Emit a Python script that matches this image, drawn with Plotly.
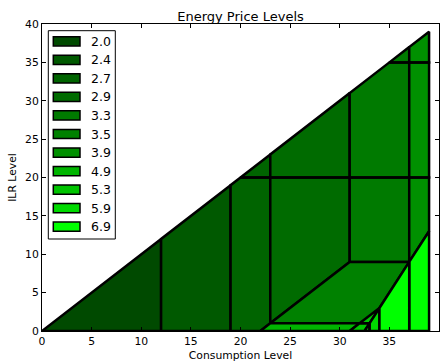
import plotly.graph_objects as go

# Price levels shown in the legend
price_levels = [2.0, 2.4, 2.7, 2.9, 3.3, 3.5, 3.9, 4.9, 5.3, 5.9, 6.9]

# Regions: price level, consumption vertices, ILR vertices
region_level = [2.0, 2.4, 2.7, 2.7, 2.9, 2.9, 3.3, 3.3, 3.3, 3.5,
                3.9, 3.9, 3.9, 4.9, 5.3, 5.3, 5.9, 5.9, 6.9, 6.9]
region_consumption = [
    [0, 12, 12],
    [12, 19, 19, 12],
    [19, 22, 23, 23, 20, 19],
    [20, 23, 23],
    [23, 31, 31, 23],
    [23, 31, 31, 23],
    [31, 37, 37, 31],
    [31, 37, 37, 35, 31],
    [35, 37, 37],
    [23, 31, 37, 33],
    [37, 39, 39, 37],
    [37, 39, 39, 37],
    [37, 39, 39, 37],
    [22, 31, 32, 23],
    [31, 32.5, 33, 32],
    [32, 33, 34],
    [32.5, 33, 33],
    [33, 34, 34, 33],
    [34, 37, 37, 34],
    [37, 39, 39, 37],
]
region_ilr = [
    [0, 0, 12],
    [0, 0, 19, 12],
    [0, 0, 1, 20, 20, 19],
    [20, 20, 23],
    [1, 9, 20, 20],
    [20, 20, 31, 23],
    [9, 9, 20, 20],
    [20, 20, 35, 35, 31],
    [35, 35, 37],
    [1, 9, 9, 1],
    [9, 13, 20, 20],
    [20, 20, 35, 35],
    [35, 35, 39, 37],
    [0, 0, 1, 1],
    [0, 0, 1, 1],
    [1, 1, 3],
    [0, 0, 1],
    [0, 0, 3, 1],
    [0, 0, 9, 3],
    [0, 0, 13, 9],
]

x_ticks = [0, 5, 10, 15, 20, 25, 30, 35, 40]
y_ticks = [0, 5, 10, 15, 20, 25, 30, 35, 40]

W, H = 444, 362
ML, MR, MT, MB = 42, 5, 24, 31
PW, PH = W - ML - MR, H - MT - MB


def level_color(v):
    g = round(255 * v / max(price_levels))
    return f"rgb(0,{g},0)"


def px_x(p):
    return (p - ML) / PW


def px_y(p):
    return (H - MB - p) / PH


fig = go.Figure()
for lvl in price_levels:
    xs, ys = [], []
    for rl, cx, cy in zip(region_level, region_consumption, region_ilr):
        if rl == lvl:
            if xs:
                xs.append(None)
                ys.append(None)
            xs += list(cx) + [cx[0]]
            ys += list(cy) + [cy[0]]
    fig.add_trace(go.Scatter(
        x=xs, y=ys, mode="lines", fill="toself",
        fillcolor=level_color(lvl),
        line=dict(color="black", width=2.5),
        name=f"{lvl:.1f}", hoverinfo="skip", showlegend=False,
    ))

font = "DejaVu Sans"

# custom matplotlib-like legend
shapes = [dict(type="rect", xref="paper", yref="paper",
               x0=px_x(48.3), x1=px_x(115.3), y0=px_y(239), y1=px_y(30.7),
               line=dict(color="black", width=1), fillcolor="white", layer="above")]
annotations = []
for i, lvl in enumerate(price_levels):
    cy = 41.3 + i * 18.54
    shapes.append(dict(type="rect", xref="paper", yref="paper",
                       x0=px_x(53.3), x1=px_x(80), y0=px_y(cy + 4.6), y1=px_y(cy - 4.6),
                       line=dict(color="black", width=1.5),
                       fillcolor=level_color(lvl), layer="above"))
    annotations.append(dict(xref="paper", yref="paper", x=px_x(89), y=px_y(cy),
                            xanchor="left", yanchor="middle", showarrow=False,
                            text=f"{lvl:.1f}",
                            font=dict(family=font, size=12.5, color="black")))

fig.update_layout(
    width=W, height=H,
    margin=dict(l=ML, r=MR, t=MT, b=MB, autoexpand=False),
    paper_bgcolor="white", plot_bgcolor="white",
    title=dict(text="Energy Price Levels", x=0.5, xref="paper", xanchor="center",
               y=1, yref="paper", yanchor="bottom", pad=dict(b=3),
               font=dict(family=font, size=13, color="black")),
    font=dict(family=font, size=11, color="black"),
    showlegend=False,
    shapes=shapes,
    annotations=annotations,
)
fig.update_xaxes(range=[0, 40], tickvals=x_ticks, ticks="inside", ticklen=4,
                 tickcolor="black", automargin=False,
                 mirror="ticks", showline=True, linecolor="black", linewidth=1,
                 showgrid=False, zeroline=False,
                 title=dict(text="Consumption Level", standoff=4,
                            font=dict(family=font, size=10.8)),
                 tickfont=dict(family=font, size=10.8))
fig.update_yaxes(range=[0, 40], tickvals=y_ticks, ticks="inside", ticklen=4,
                 tickcolor="black", automargin=False,
                 mirror="ticks", showline=True, linecolor="black", linewidth=1,
                 showgrid=False, zeroline=False,
                 title=dict(text="ILR Level", standoff=6,
                            font=dict(family=font, size=10.8)),
                 tickfont=dict(family=font, size=10.8))

fig.write_html("out.html")
